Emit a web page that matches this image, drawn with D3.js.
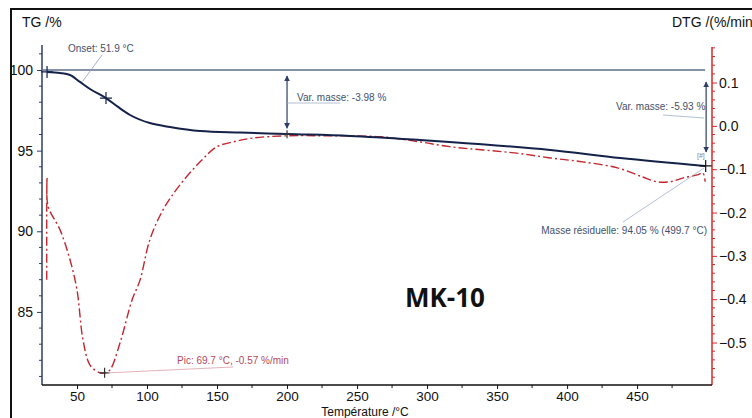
<!DOCTYPE html>
<html><head><meta charset="utf-8">
<script src="https://cdn.jsdelivr.net/npm/d3@7"></script>
<style>
html,body{margin:0;padding:0;background:#fff;}
svg{display:block;font-family:"Liberation Sans",Arial,sans-serif;}
</style></head>
<body>
<svg id="c" width="752" height="418"></svg>
<script>
// ---- data ----
const tgTemp = [28.6, 37.9, 45, 52.1, 59.3, 70.7, 79.3, 87.9, 102, 116.4, 137.9, 166.4, 200, 245, 295, 316, 388, 438, 498.6];
const tgVal  = [99.88, 99.81, 99.69, 99.26, 98.82, 98.26, 97.71, 97.21, 96.71, 96.47, 96.22, 96.12, 96.03, 95.91, 95.66, 95.54, 95.04, 94.54, 94.05];
const dtgTemp = [28.4, 28.6, 29.3, 37.9, 45, 50, 54.3, 59.3, 66.4, 70, 73.6, 80.7, 89.3, 95, 102, 111.4, 123.6, 137.9, 150, 161.4, 175.7, 200, 230.7, 266, 295, 316, 364, 388, 411, 436, 454, 464, 473.6, 483, 493, 497, 498.6];
const dtgVal  = [-0.355, -0.12, -0.185, -0.24, -0.309, -0.379, -0.494, -0.552, -0.57, -0.57, -0.563, -0.501, -0.402, -0.356, -0.263, -0.194, -0.136, -0.083, -0.048, -0.037, -0.028, -0.023, -0.023, -0.025, -0.037, -0.048, -0.063, -0.074, -0.083, -0.097, -0.118, -0.129, -0.129, -0.12, -0.113, -0.109, -0.129];
const xTicks = [50, 100, 150, 200, 250, 300, 350, 400, 450];
const xMinor = [75, 125, 175, 225, 275, 325, 375, 425, 475];
const tgTicks = [85, 90, 95, 100];
const tgMinor = [81,82,83,84,86,87,88,89,91,92,93,94,96,97,98,99,101];
const dtgTicks = [-0.5, -0.4, -0.3, -0.2, -0.1, 0.0, 0.1];
const dtgMinor = [-0.58,-0.56,-0.54,-0.52,-0.48,-0.46,-0.44,-0.42,-0.38,-0.36,-0.34,-0.32,-0.28,-0.26,-0.24,-0.22,-0.18,-0.16,-0.14,-0.12,-0.08,-0.06,-0.04,-0.02,0.02,0.04,0.06,0.08,0.12,0.14,0.16,0.18];
const onsetT = 51.9, pic = {t: 69.7, v: -0.57}, step1 = {t: 200, from: 100, to: 96.02}, resid = {t: 499.7, v: 94.05};

// ---- scales ----
const svg = d3.select("#c");
const x = d3.scaleLinear().domain([25, 503.5]).range([42, 712]);
const yL = d3.scaleLinear().domain([80.47, 101.55]).range([385, 45]);
const yR = d3.scaleLinear().domain([-0.598, 0.182]).range([385, 47]);

// frame
svg.append("path").attr("d", "M11,420 L11,9 L760,9").attr("fill","none").attr("stroke","#111").attr("stroke-width",2);

// titles
svg.append("text").attr("x",22).attr("y",27).attr("font-size",14).attr("fill","#111").text("TG /%");
svg.append("text").attr("x",672).attr("y",27).attr("font-size",14).attr("fill","#111").text("DTG /(%/min");
svg.append("text").attr("x",365).attr("y",416).attr("text-anchor","middle").attr("font-size",12).attr("fill","#111").text("Température /°C");
svg.append("text").attr("x",405).attr("y",307).attr("font-size",26).attr("font-weight","bold").attr("font-family","'Open Sans',sans-serif").attr("fill","#111").text("MK-10");

// axes
const axL = d3.axisLeft(yL).tickValues(tgTicks).tickSize(5).tickPadding(4).tickFormat(d3.format("d"));
const gL = svg.append("g").attr("transform","translate(42,0)").call(axL);
gL.select(".domain").remove();
gL.append("line").attr("x1",0).attr("x2",0).attr("y1",45).attr("y2",385).attr("stroke","#2c3e66").attr("stroke-width",1.5);
gL.selectAll(".tick line").attr("stroke","#2c3e66");
gL.selectAll(".tick text").attr("font-size",14).attr("fill","#111").attr("font-family","'Liberation Sans',Arial");
gL.selectAll(".minor").data(tgMinor).join("line").attr("x1",-3).attr("x2",0).attr("y1",d=>yL(d)).attr("y2",d=>yL(d)).attr("stroke","#2c3e66");

const axR = d3.axisRight(yR).tickValues(dtgTicks).tickSize(5).tickPadding(2).tickFormat(d3.format(".1f"));
const gR = svg.append("g").attr("transform","translate(712,0)").call(axR);
gR.select(".domain").remove();
gR.append("line").attr("x1",0).attr("x2",0).attr("y1",47).attr("y2",385).attr("stroke","#d42a2a").attr("stroke-width",1.5);
gR.selectAll(".tick line").attr("stroke","#d42a2a");
gR.selectAll(".tick text").attr("font-size",14).attr("fill","#111").attr("font-family","'Liberation Sans',Arial");
gR.selectAll(".minor").data(dtgMinor).join("line").attr("x1",0).attr("x2",3).attr("y1",d=>yR(d)).attr("y2",d=>yR(d)).attr("stroke","#d42a2a");

const axB = d3.axisBottom(x).tickValues(xTicks).tickSize(4).tickPadding(2).tickFormat(d3.format("d"));
const gB = svg.append("g").attr("transform","translate(0,385)").call(axB);
gB.select(".domain").remove();
gB.append("line").attr("x1",42).attr("x2",712).attr("y1",0).attr("y2",0).attr("stroke","#111").attr("stroke-width",1.5);
gB.selectAll(".tick line").attr("stroke","#111");
gB.selectAll(".tick text").attr("font-size",13.5).attr("fill","#111").attr("font-family","'Liberation Sans',Arial");
gB.selectAll(".minor").data(xMinor).join("line").attr("x1",d=>x(d)).attr("x2",d=>x(d)).attr("y1",0).attr("y2",3).attr("stroke","#111");

// 100% reference line
svg.append("line").attr("x1",x(25)).attr("x2",x(498.6)).attr("y1",yL(100)).attr("y2",yL(100)).attr("stroke","#5d6d88").attr("stroke-width",1.5);

// DTG curve
const dtgData = dtgTemp.map((t,i)=>[t, dtgVal[i]]);
svg.append("path").datum(dtgData).attr("fill","none").attr("stroke","#c3262e").attr("stroke-width",1.4)
  .attr("stroke-dasharray","9,3,2,3")
  .attr("d", d3.line().x(d=>x(d[0])).y(d=>yR(d[1])).curve(d3.curveCatmullRom.alpha(0.5)));

// TG curve
const tgData = tgTemp.map((t,i)=>[t, tgVal[i]]);
svg.append("path").datum(tgData).attr("fill","none").attr("stroke","#14224a").attr("stroke-width",2)
  .attr("d", d3.line().x(d=>x(d[0])).y(d=>yL(d[1])).curve(d3.curveMonotoneX));

// markers
function plus(px, py, s, col){
  svg.append("path").attr("d",`M${px-s},${py}H${px+s}M${px},${py-s}V${py+s}`).attr("stroke",col).attr("stroke-width",1.2);
}
plus(x(28.6), yL(99.88), 6, "#14224a");
plus(x(70.7), yL(98.26), 6, "#14224a");
plus(x(pic.t), yR(pic.v), 5, "#333");
plus(x(resid.t)-1, yL(resid.v), 6, "#111");
plus(x(step1.t), yL(step1.to), 4, "#333");

const annCol = "#44506a";
// onset annotation
svg.append("line").attr("x1",102).attr("y1",55).attr("x2",x(onsetT)+3).attr("y2",yL(99.3)).attr("stroke","#8aa0c0").attr("stroke-width",0.8);
svg.append("text").attr("x",68).attr("y",52).attr("font-size",10).attr("fill",annCol).text("Onset: 51.9 °C");

// arrows
svg.append("defs").html(`<marker id="ah" viewBox="0 0 10 10" refX="9" refY="5" markerWidth="5" markerHeight="6" orient="auto-start-reverse"><path d="M0,0L10,5L0,10z" fill="#2c3e66"/></marker>`);
svg.append("line").attr("x1",x(step1.t)).attr("x2",x(step1.t)).attr("y1",yL(100)+6).attr("y2",yL(step1.to)-6)
  .attr("stroke","#2c3e66").attr("stroke-width",1.2).attr("marker-start","url(#ah)").attr("marker-end","url(#ah)");
svg.append("line").attr("x1",x(step1.t)).attr("x2",340).attr("y1",103).attr("y2",103).attr("stroke","#9fb0c8").attr("stroke-width",0.8);
svg.append("text").attr("x",297).attr("y",101).attr("font-size",10).attr("fill",annCol).text("Var. masse: -3.98 %");

const xr = x(498.6)+1;
svg.append("line").attr("x1",xr).attr("x2",xr).attr("y1",yL(100)+12).attr("y2",yL(resid.v)-14)
  .attr("stroke","#2c3e66").attr("stroke-width",1.2).attr("marker-start","url(#ah)").attr("marker-end","url(#ah)");
svg.append("line").attr("x1",663).attr("x2",xr-2).attr("y1",115).attr("y2",118).attr("stroke","#9fb0c8").attr("stroke-width",0.8);
svg.append("text").attr("x",616).attr("y",110).attr("font-size",10).attr("fill",annCol).text("Var. masse: -5.93 %");
svg.append("text").attr("x",697).attr("y",158).attr("font-size",7).attr("fill","#888").text("[#]");

// residual mass
svg.append("line").attr("x1",623).attr("y1",222).attr("x2",xr-2).attr("y2",yL(resid.v)+2).attr("stroke","#9fb0c8").attr("stroke-width",0.8);
svg.append("text").attr("x",707).attr("y",234).attr("text-anchor","end").attr("font-size",10).attr("fill",annCol).text("Masse résiduelle: 94.05 % (499.7 °C)");

// peak
svg.append("line").attr("x1",x(pic.t)+3).attr("y1",yR(pic.v)).attr("x2",233).attr("y2",367).attr("stroke","#d9a0a8").attr("stroke-width",0.8);
svg.append("text").attr("x",177).attr("y",364).attr("font-size",10).attr("fill","#b5485a").text("Pic: 69.7 °C, -0.57 %/min");
</script>
</body></html>
